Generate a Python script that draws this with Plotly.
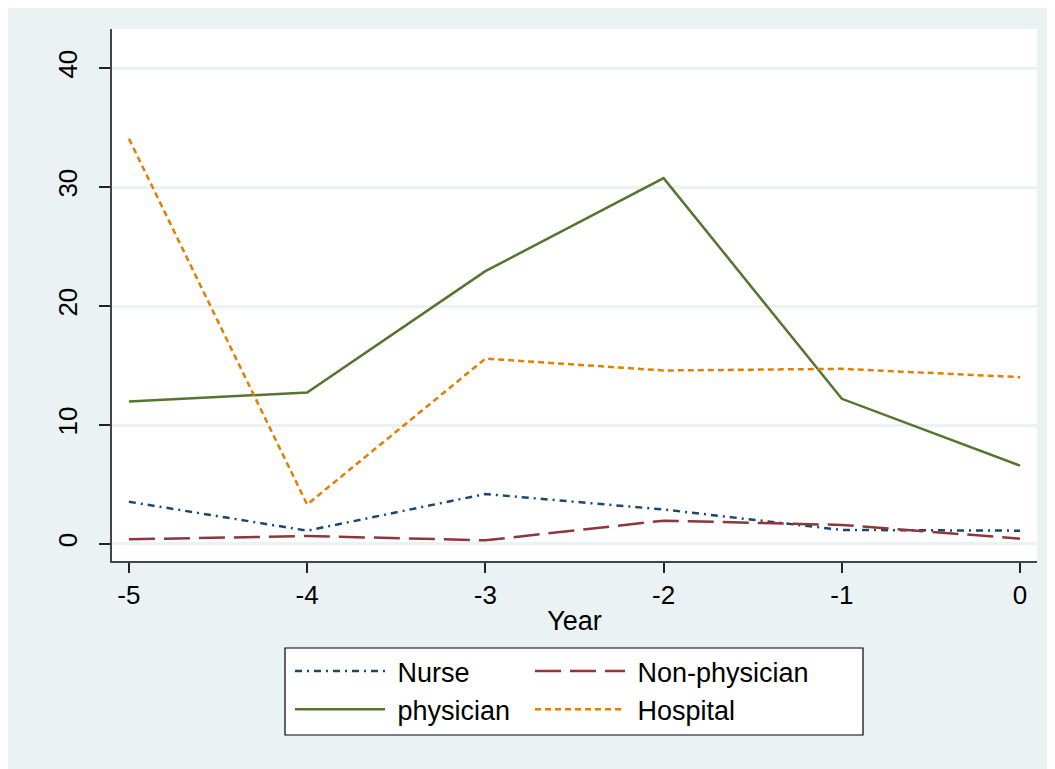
import plotly.graph_objects as go

years = [-5, -4, -3, -2, -1, 0]
nurse = [3.55, 1.12, 4.2, 2.9, 1.18, 1.12]
non_physician = [0.39, 0.67, 0.31, 1.96, 1.6, 0.45]
physician = [11.98, 12.73, 22.93, 30.75, 12.2, 6.59]
hospital = [34.06, 3.32, 15.58, 14.58, 14.72, 14.02]
tick_labels = ["-5", "-4", "-3", "-2", "-1", "0"]

# page has an 8px body margin; work in reference-image pixel coordinates
OX, OY = 8, 8
W, H = 1055, 769
ML, MR, MT, MB = 112, 18, 29, 208
PW, PH = W - ML - MR, H - MT - MB
BG = "#eaf2f3"
FONT = "Liberation Sans, Arial, sans-serif"
FS = 27

def px(x):
    return (x - ML) / PW

def py(y):
    return (H - MB - y) / PH

fig = go.Figure()
fig.add_trace(go.Scatter(x=years, y=nurse, name=" Nurse", mode="lines", legend="legend",
                         line=dict(color="#1a476f", width=2.5, dash="7px,5px,2px,5px")))
fig.add_trace(go.Scatter(x=years, y=non_physician, name=" Non-physician", mode="lines", legend="legend2",
                         line=dict(color="#90353b", width=2.5, dash="26px,9px")))
fig.add_trace(go.Scatter(x=years, y=physician, name=" physician", mode="lines", legend="legend",
                         line=dict(color="#55752f", width=2.5)))
fig.add_trace(go.Scatter(x=years, y=hospital, name=" Hospital", mode="lines", legend="legend2",
                         line=dict(color="#e37e00", width=2.5, dash="6px,4px")))

shapes = [
    # legend box
    dict(type="rect", xref="paper", yref="paper", x0=px(285), x1=px(863), y0=py(735), y1=py(648),
         fillcolor="white", line=dict(color="black", width=1.2), layer="above"),
]

leg_common = dict(
    orientation="v", xanchor="left", yanchor="top",
    bgcolor="rgba(0,0,0,0)", borderwidth=0, itemwidth=90,
    font=dict(family=FONT, size=FS, color="black"), tracegroupgap=0,
)

fig.update_layout(
    width=W - OX, height=H - OY,
    margin=dict(l=ML - OX, r=MR, t=MT - OY, b=MB),
    paper_bgcolor=BG, plot_bgcolor="white",
    font=dict(family=FONT, size=FS, color="black"),
    shapes=shapes,
    showlegend=True,
    legend=dict(x=px(290), y=py(647), **leg_common),
    legend2=dict(x=px(530), y=py(647), **leg_common),
    xaxis=dict(
        range=[-5.095, 0.095], tickvals=years, ticktext=tick_labels,
        showgrid=False, zeroline=False, showline=True, linecolor="#444", linewidth=1.5,
        ticks="outside", ticklen=10, tickwidth=1.5, tickcolor="#222",
        title=dict(text="Year", font=dict(size=FS), standoff=2),
        tickfont=dict(size=FS - 1),
    ),
    yaxis=dict(
        range=[-1.43, 43.28], tickvals=[0, 10, 20, 30, 40],
        showgrid=True, gridcolor=BG, gridwidth=3, zeroline=False,
        showline=True, linecolor="#444", linewidth=1.5,
        ticks="outside", ticklen=11, tickwidth=1.5, tickcolor="#222",
        tickangle=-90, tickfont=dict(size=FS - 1), ticklabelstandoff=12,
    ),
)

fig.write_html("out.html")
